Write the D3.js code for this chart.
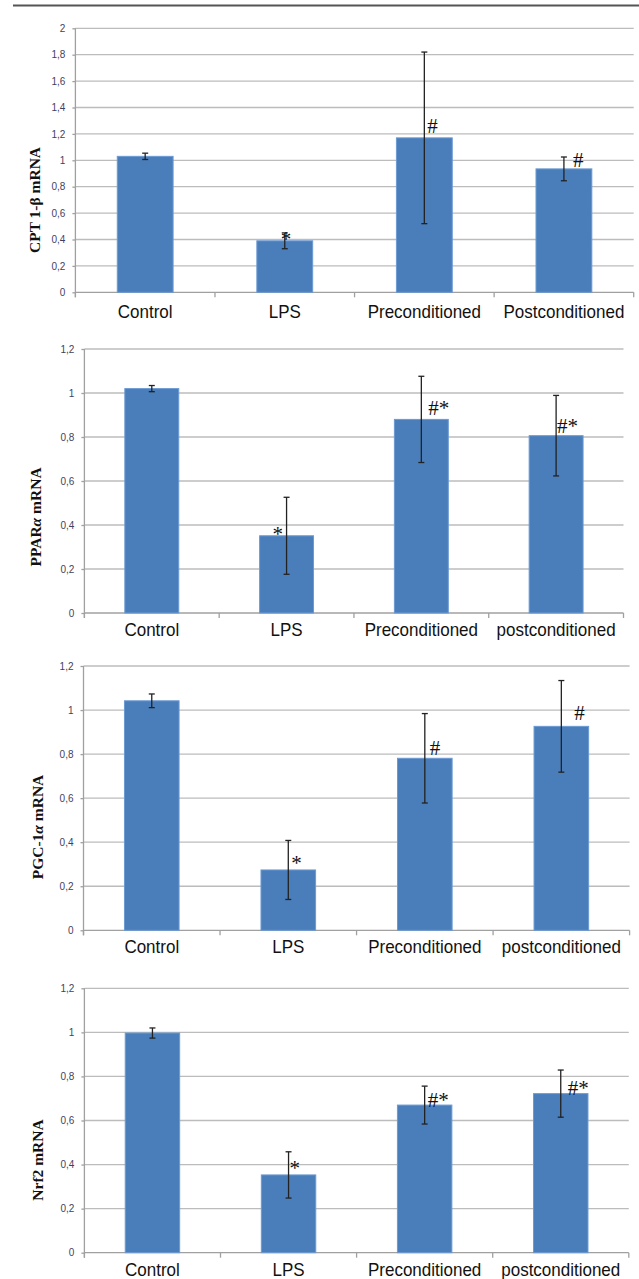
<!DOCTYPE html>
<html>
<head>
<meta charset="utf-8">
<script src="https://cdn.jsdelivr.net/npm/d3@7"></script>
<style>
  html, body { margin: 0; padding: 0; background: #fff; }
  svg { display: block; }
</style>
</head>
<body>
<svg id="chart" width="639" height="1279"></svg>
<script>
// ---------------- DATA ----------------
const categoriesA = ["Control", "LPS", "Preconditioned", "Postconditioned"];
const categoriesB = ["Control", "LPS", "Preconditioned", "postconditioned"];

const cptValues  = [1.03, 0.39, 1.17, 0.935];
const cptErrors  = [0.024, 0.06, 0.65, 0.09];
const cptMarks   = ["", "*", "#", "#"];

const pparValues = [1.02, 0.351, 0.88, 0.806];
const pparErrors = [0.014, 0.175, 0.196, 0.183];
const pparMarks  = ["", "*", "#*", "#*"];

const pgcValues  = [1.042, 0.274, 0.781, 0.926];
const pgcErrors  = [0.031, 0.134, 0.203, 0.208];
const pgcMarks   = ["", "*", "#", "#"];

const nrfValues  = [0.997, 0.353, 0.670, 0.722];
const nrfErrors  = [0.023, 0.105, 0.086, 0.107];
const nrfMarks   = ["", "*", "#*", "#*"];

const yTicksA = [0, 0.2, 0.4, 0.6, 0.8, 1, 1.2, 1.4, 1.6, 1.8, 2];
const yTicksB = [0, 0.2, 0.4, 0.6, 0.8, 1, 1.2];

// ---------------- LAYOUT ----------------
const panels = [
  { cats: categoriesA, values: cptValues, errors: cptErrors, marks: cptMarks, ticks: yTicksA, ymax: 2,
    left: 75.4, right: 633.7, top: 28.3, bottom: 292.3, labelGap: 26,
    title: [{t: "CPT 1-β mRNA"}], titleX: 35, titleY: 200,
    markOff: [[0,0],[-4,5],[3,-5],[9,-2]] },
  { cats: categoriesB, values: pparValues, errors: pparErrors, marks: pparMarks, ticks: yTicksB, ymax: 1.2,
    left: 84.4, right: 623.5, top: 349, bottom: 613, labelGap: 23,
    title: [{t: "PPAR"}, {t: "α", it: true}, {t: " mRNA"}], titleX: 36, titleY: 517,
    markOff: [[0,0],[-14,5],[7,-4],[1,-3]] },
  { cats: categoriesB, values: pgcValues, errors: pgcErrors, marks: pgcMarks, ticks: yTicksB, ymax: 1.2,
    left: 83.5, right: 629.6, top: 666, bottom: 930.3, labelGap: 23,
    title: [{t: "PGC-1"}, {t: "α", it: true}, {t: " mRNA"}], titleX: 38, titleY: 827,
    markOff: [[0,0],[3,0],[5,-3],[13,-6]] },
  { cats: categoriesB, values: nrfValues, errors: nrfErrors, marks: nrfMarks, ticks: yTicksB, ymax: 1.2,
    left: 84.4, right: 628.8, top: 988.3, bottom: 1252.7, labelGap: 23,
    title: [{t: "Nrf2 mRNA"}], titleX: 38, titleY: 1160,
    markOff: [[0,0],[1,0],[3,2],[7,1]] }
];

const svg = d3.select("#chart");
svg.append("rect").attr("width", 639).attr("height", 1279).attr("fill", "#fff");

// top rule
svg.append("line").attr("x1", 13).attr("x2", 639).attr("y1", 5.5).attr("y2", 5.5)
  .attr("stroke", "#555").attr("stroke-width", 2);

const fmt = v => d3.format("~g")(v).replace(".", ",");

panels.forEach(p => {
  const g = svg.append("g");
  const y = d3.scaleLinear().domain([0, p.ymax]).range([p.bottom, p.top]);
  const xSlot = d3.scaleBand().domain(p.cats).range([p.left, p.right]).padding(0);
  const xBar = d3.scaleBand().domain(p.cats).range([p.left, p.right]).paddingInner(0.6).paddingOuter(0.3);

  // gridlines
  g.append("g").selectAll("line").data(p.ticks.filter(t => t > 0)).join("line")
    .attr("x1", p.left).attr("x2", p.right)
    .attr("y1", d => y(d)).attr("y2", d => y(d))
    .attr("stroke", "#bcbcbc").attr("stroke-width", 1.3);

  // y axis
  const ya = g.append("g").attr("transform", `translate(${p.left},0)`)
    .call(d3.axisLeft(y).tickValues(p.ticks).tickFormat(fmt).tickSize(3).tickPadding(7));
  ya.select(".domain").attr("stroke", "#a0a0a0").attr("stroke-width", 1.3)
    .attr("d", `M0,${p.top}V${p.bottom + 5}`);
  ya.selectAll(".tick line").attr("stroke", "#a0a0a0").attr("stroke-width", 1.3);
  ya.selectAll(".tick text").attr("fill", "#3f3f5f")
    .style("font-family", "'Liberation Sans', Arial, sans-serif").style("font-size", "10px");

  // x axis
  const xa = g.append("g").attr("transform", `translate(0,${p.bottom})`)
    .call(d3.axisBottom(xSlot).tickSize(0).tickPadding(0));
  xa.select(".domain").remove();
  xa.selectAll(".tick text").attr("fill", "#111")
    .attr("y", 0).attr("dy", 0)
    .attr("transform", `translate(0,${p.labelGap}) scale(1,1.1)`)
    .style("font-family", "'Liberation Sans', Arial, sans-serif").style("font-size", "17px");
  g.append("line").attr("x1", p.left).attr("x2", p.right).attr("y1", p.bottom).attr("y2", p.bottom)
    .attr("stroke", "#a0a0a0").attr("stroke-width", 1.3);
  const bounds = p.cats.map(c => xSlot(c)).concat([p.right]);
  g.append("g").selectAll("line").data(bounds).join("line")
    .attr("x1", d => d).attr("x2", d => d).attr("y1", p.bottom).attr("y2", p.bottom + 5)
    .attr("stroke", "#a0a0a0").attr("stroke-width", 1.3);

  const rows = p.cats.map((c, i) => ({ c, v: p.values[i], e: p.errors[i], m: p.marks[i], off: p.markOff[i] }));

  // bars
  g.append("g").selectAll("rect").data(rows).join("rect")
    .attr("x", d => xBar(d.c)).attr("width", xBar.bandwidth())
    .attr("y", d => y(d.v)).attr("height", d => y(0) - y(d.v))
    .attr("fill", "#4a7ebb").attr("stroke", "#6b9ad3").attr("stroke-width", 1);

  // error bars
  const eb = g.append("g").attr("stroke", "#222").attr("stroke-width", 1.3);
  rows.forEach(d => {
    const cx = xSlot(d.c) + xSlot.bandwidth() / 2;
    eb.append("line").attr("x1", cx).attr("x2", cx).attr("y1", y(d.v + d.e)).attr("y2", y(d.v - d.e));
    eb.append("line").attr("x1", cx - 3).attr("x2", cx + 3).attr("y1", y(d.v + d.e)).attr("y2", y(d.v + d.e));
    eb.append("line").attr("x1", cx - 3).attr("x2", cx + 3).attr("y1", y(d.v - d.e)).attr("y2", y(d.v - d.e));
  });

  // significance marks
  g.append("g").selectAll("text").data(rows.filter(d => d.m)).join("text")
    .attr("x", d => xSlot(d.c) + xSlot.bandwidth() / 2 + d.off[0])
    .attr("y", d => y(d.v) + d.off[1])
    .attr("fill", "#111")
    .style("font-family", "'Liberation Serif', 'Times New Roman', serif").style("font-size", "21px")
    .text(d => d.m);

  // y title
  const t = g.append("text")
    .attr("transform", `translate(${p.titleX},${p.titleY}) rotate(-90)`)
    .attr("text-anchor", "middle").attr("dy", "0.35em").attr("fill", "#111")
    .style("font-family", "'Liberation Serif', 'Times New Roman', serif")
    .style("font-size", "15.5px").style("font-weight", "bold");
  p.title.forEach(s => t.append("tspan").attr("font-style", s.it ? "italic" : "normal").text(s.t));
});
</script>
</body>
</html>
